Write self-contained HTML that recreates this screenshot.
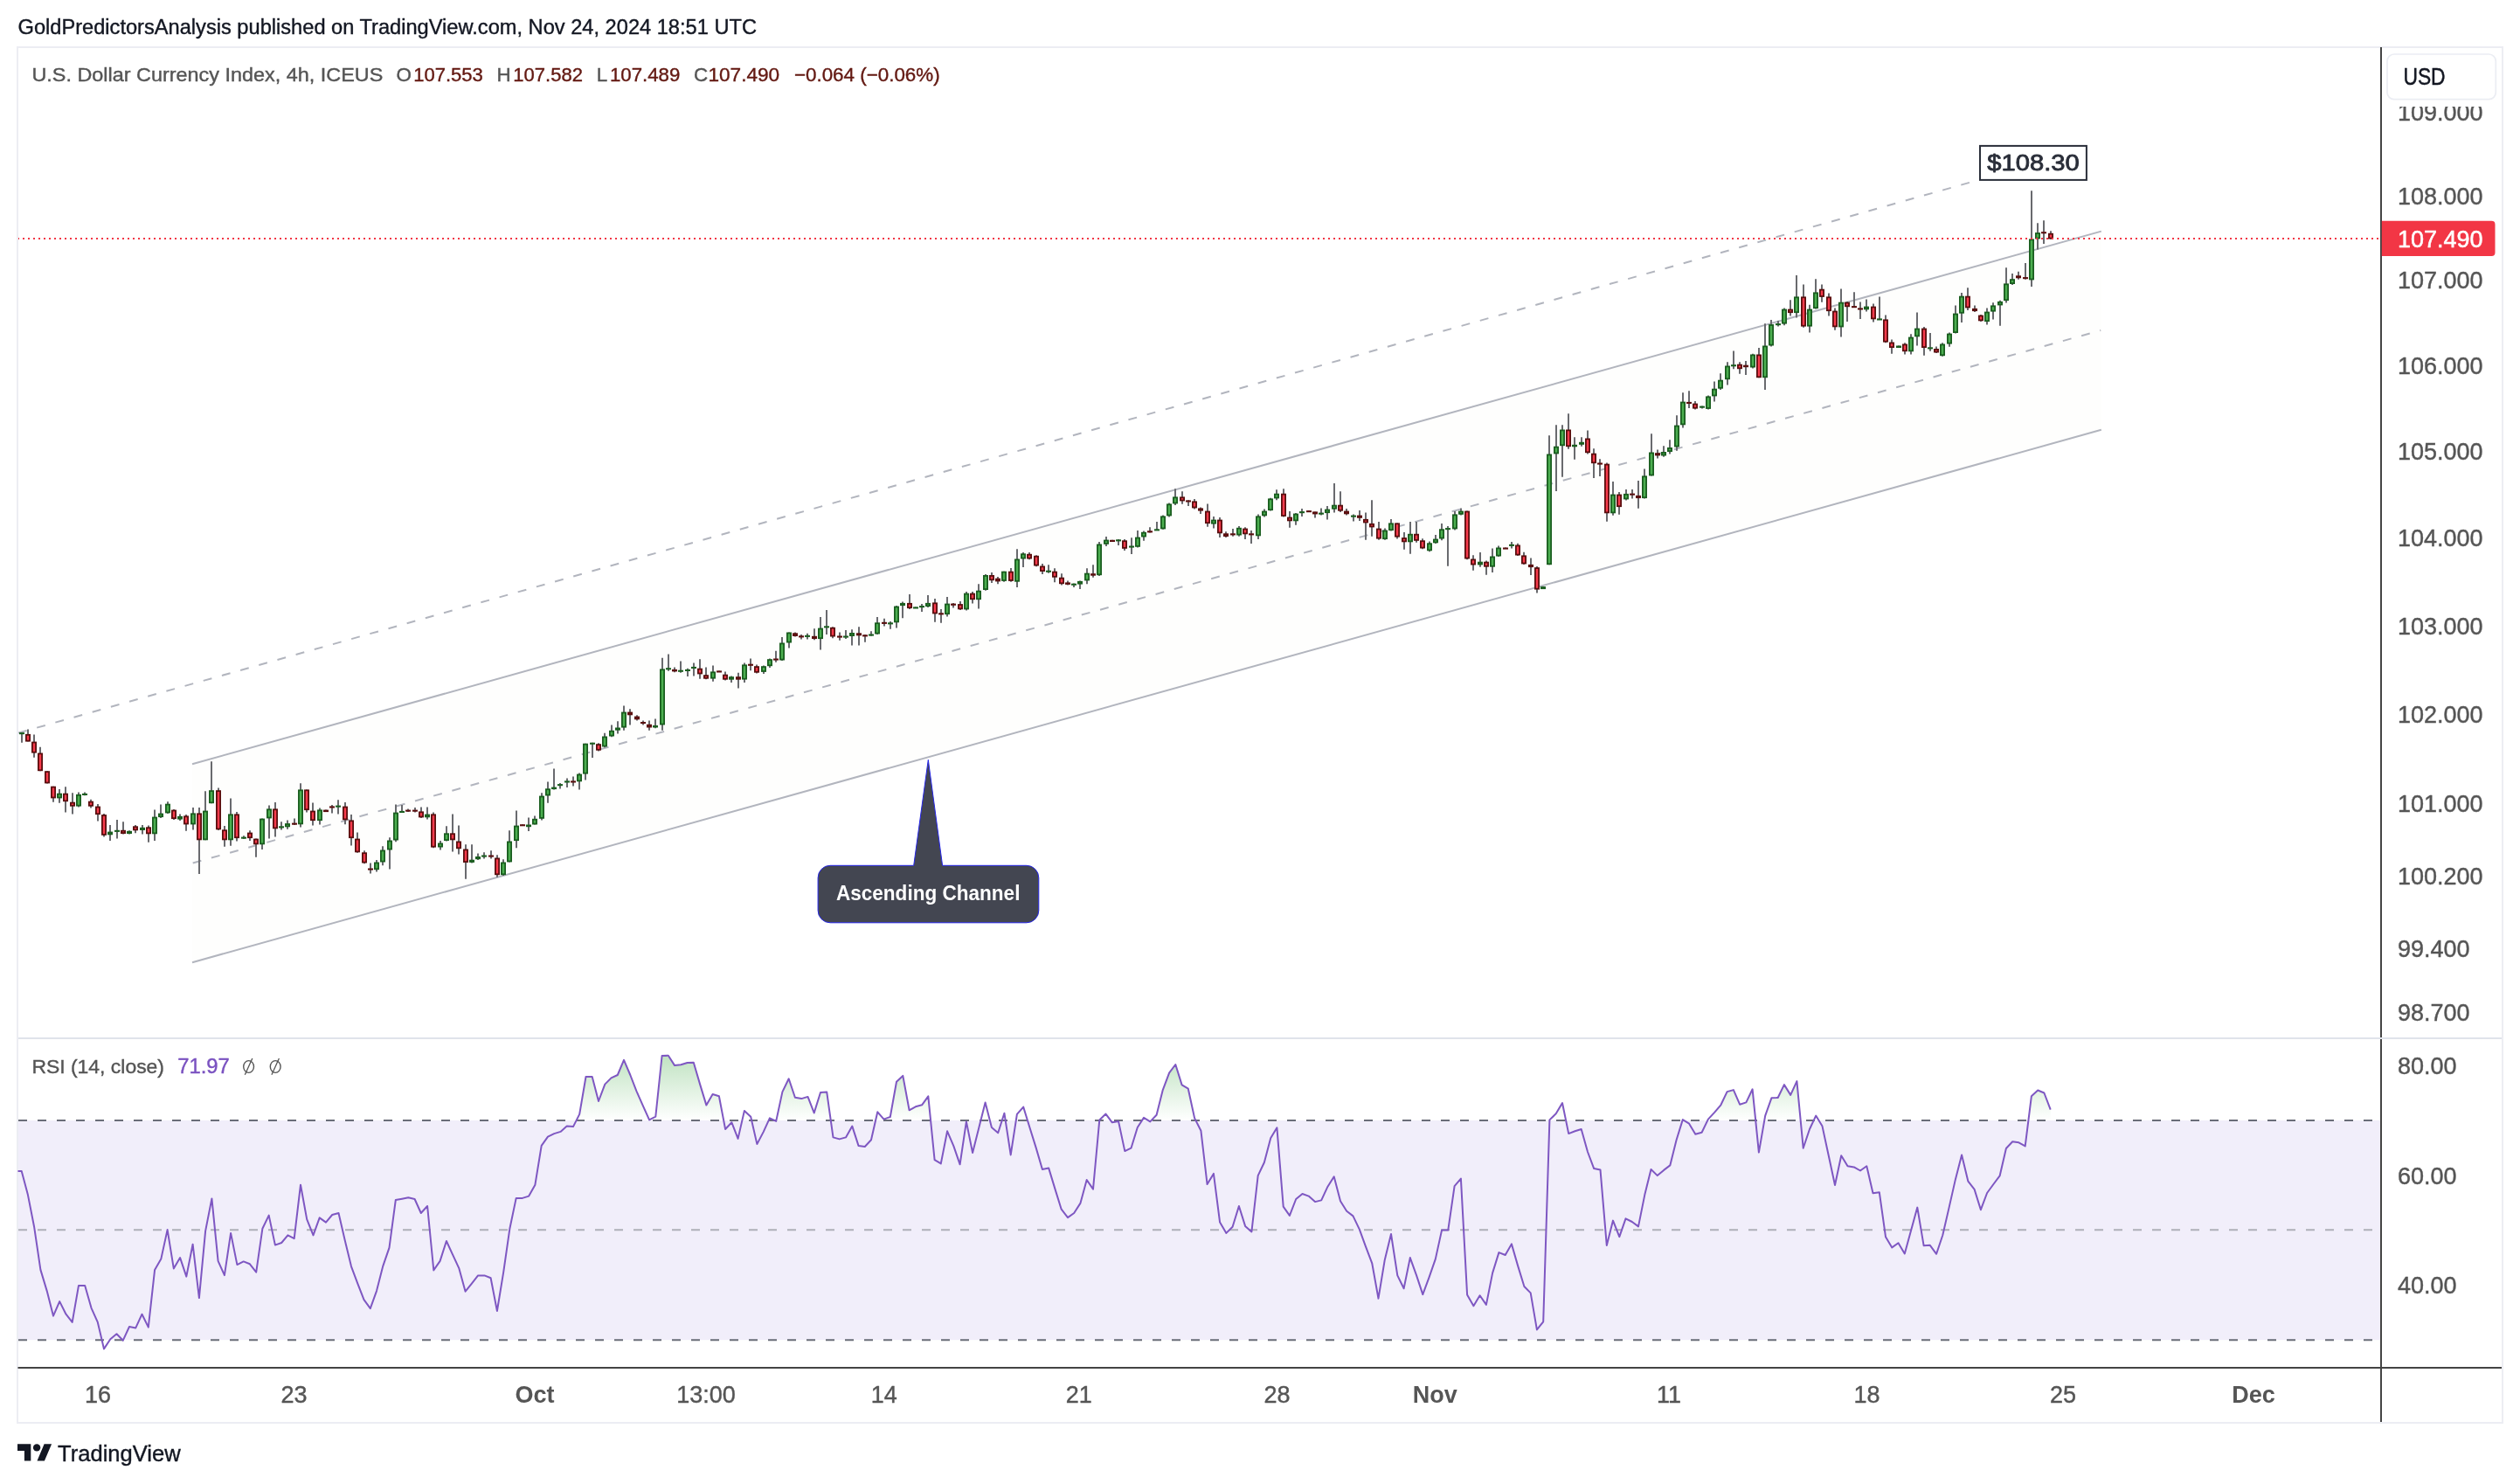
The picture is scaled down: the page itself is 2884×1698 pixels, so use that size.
<!DOCTYPE html><html><head><meta charset="utf-8"><title>DXY</title><style>html,body{margin:0;padding:0;background:#fff}body{width:2884px;height:1698px;overflow:hidden}</style></head><body><svg width="2884" height="1698" viewBox="0 0 2884 1698" style="display:block;will-change:transform">
<defs>
<linearGradient id="ob" x1="0" y1="1156" x2="0" y2="1282" gradientUnits="userSpaceOnUse"><stop offset="0" stop-color="#4caf50" stop-opacity="0.6"/><stop offset="1" stop-color="#4caf50" stop-opacity="0"/></linearGradient>
<clipPath id="obc"><rect x="20" y="1188" width="2704" height="94"/></clipPath>
<clipPath id="main"><rect x="21" y="56" width="2703" height="1131"/></clipPath>
</defs>
<rect width="2884" height="1698" fill="#ffffff"/>
<g opacity="0.999">
<text x="20.5" y="38.6" font-family="Liberation Sans, sans-serif" font-size="24.4" fill="#131722" textLength="845.5" lengthAdjust="spacingAndGlyphs" stroke="#131722" stroke-width="0.4">GoldPredictorsAnalysis published on TradingView.com, Nov 24, 2024 18:51 UTC</text>
<rect x="20" y="54" width="2844" height="1574" fill="#ffffff" stroke="#ecedf3" stroke-width="2"/>
<g clip-path="url(#main)">
<polygon points="220,874.3 2404.8,264.6 2404.8,491.8 220,1101.2" fill="#fefefd"/>
<line x1="220" y1="874.3" x2="2404.8" y2="264.6" stroke="#b2b5be" stroke-width="2"/>
<line x1="220" y1="1101.2" x2="2404.8" y2="491.8" stroke="#b2b5be" stroke-width="2"/>
<line x1="220.7" y1="987.5" x2="2404.2" y2="378" stroke="#b2b5be" stroke-width="2" stroke-dasharray="10 12"/>
<line x1="21" y1="838.6" x2="2266" y2="205.5" stroke="#b2b5be" stroke-width="2" stroke-dasharray="10 12"/>
<path d="M25 837.9V849.8M32 834.4V848.6M39 840.6V866.8M46 854.8V882.2M54 882.2V896.5M61 899.7V917.7M68 902.9V918.7M75 900.2V929.6M83 907.2V931.4M90 906.4V923.4M97 906.4V910.2M104 914.7V924.6M112 920.1V939.6M119 930.9V957.6M126 944.1V962.0M134 937.9V959.6M141 940.3V954.6M148 950.3V954.6M155 944.1V953.3M163 944.1V954.6M170 944.6V963.8M177 926.4V962.0M184 920.4V935.9M192 917.2V930.9M199 925.9V937.9M206 931.4V938.9M213 932.1V950.8M221 924.1V949.6M228 924.1V1000.0M235 905.2V961.3M242 871.3V919.2M250 901.4V950.1M257 945.1V968.8M264 913.4V967.8M271 929.1V962.5M279 956.3V960.0M286 950.3V962.0M293 959.6V980.7M300 936.6V972.0M308 921.4V959.6M315 917.9V957.6M322 940.3V949.6M329 938.4V948.8M337 936.4V944.1M344 896.2V946.6M351 903.4V929.6M358 918.4V944.6M366 924.6V943.6M373 926.6V929.1M380 920.9V930.4M387 915.2V931.4M395 917.9V943.3M402 932.1V967.5M409 952.6V975.8M417 973.3V988.2M424 987.5V999.5M431 984.0V997.5M438 968.3V990.2M446 958.3V994.5M453 920.4V963.3M460 920.9V929.6M467 925.4V929.1M475 924.1V929.6M482 923.4V935.9M489 923.4V937.6M496 929.6V970.3M504 962.0V972.5M511 945.3V962.5M518 931.4V974.5M525 944.6V977.5M533 966.3V1005.7M540 966.3V987.5M547 976.5V984.0M554 975.3V982.5M562 973.3V982.5M569 978.3V1003.7M576 983.2V1001.9M583 950.3V986.5M591 927.6V970.3M598 943.2V944.2M605 935.5V951.0M612 933.5V943.5M620 907.3V938.5M627 894.4V918.8M634 879.4V903.6M641 896.1V902.6M649 890.6V901.1M656 888.6V899.4M663 884.4V903.6M670 850.7V892.6M678 849.7V866.9M685 850.2V859.5M692 838.8V855.2M700 829.5V843.2M707 825.3V839.5M714 807.6V835.8M721 811.3V829.5M729 818.3V824.5M736 824.5V829.5M743 824.5V835.8M750 822.5V833.3M758 752.7V835.8M765 748.5V767.7M772 763.4V769.2M779 756.5V769.7M787 764.7V773.9M794 758.5V773.4M801 754.2V776.7M808 763.4V777.2M816 761.4V779.7M823 767.4V768.4M830 768.4V778.4M837 773.4V780.9M845 769.7V787.6M852 758.5V780.9M859 753.5V767.2M866 760.4V770.4M874 761.4V770.9M881 753.5V763.9M888 744.7V757.7M895 729.0V756.0M903 723.5V741.5M910 723.5V728.5M917 726.0V731.5M924 724.8V731.5M932 719.3V732.3M939 706.1V743.5M946 698.1V726.0M953 717.3V730.3M961 723.5V732.8M968 721.0V731.0M975 720.3V738.5M983 717.3V738.5M990 726.0V734.8M997 722.3V727.8M1004 706.1V726.0M1012 707.8V716.6M1019 711.1V719.8M1026 692.9V718.6M1033 688.6V707.3M1041 679.9V696.9M1048 694.4V695.4M1055 691.1V699.9M1062 681.1V694.9M1070 684.9V711.8M1077 696.9V712.8M1084 682.9V705.6M1091 689.9V695.4M1099 687.9V698.1M1106 676.9V698.6M1113 676.9V690.6M1120 668.2V696.6M1128 657.0V675.7M1135 655.0V666.9M1142 660.0V668.2M1149 653.7V665.7M1157 650.0V665.7M1164 628.3V671.9M1171 632.0V649.0M1178 632.0V640.2M1186 635.3V648.2M1193 645.0V657.0M1200 646.2V655.7M1207 650.2V666.2M1215 656.2V669.4M1222 664.4V669.4M1229 667.4V671.9M1236 664.4V673.9M1244 650.2V668.2M1251 646.2V660.7M1258 620.0V659.0M1266 614.1V625.0M1273 617.8V620.0M1280 617.1V624.0M1287 617.1V630.0M1295 615.3V634.0M1302 607.1V626.5M1309 607.6V618.8M1316 603.3V609.6M1324 597.1V606.6M1331 589.6V605.8M1338 575.4V591.4M1345 559.2V577.9M1353 562.2V576.7M1360 572.2V578.9M1367 570.9V582.6M1374 580.4V587.9M1382 576.4V602.8M1389 590.9V604.6M1396 592.1V615.1M1403 608.3V615.1M1411 605.1V613.8M1418 602.1V613.8M1425 603.3V617.1M1432 607.1V622.0M1440 588.4V617.1M1447 582.6V591.4M1454 569.7V584.6M1461 560.2V572.2M1469 559.2V591.6M1476 585.1V603.8M1483 587.1V600.8M1490 582.1V590.9M1498 584.1V585.1M1505 585.4V592.6M1512 581.4V589.6M1519 578.9V594.6M1527 553.0V586.6M1534 562.2V585.9M1541 582.1V589.6M1549 588.4V596.6M1556 584.1V595.9M1563 586.4V617.8M1570 572.2V613.8M1578 597.1V617.8M1585 604.6V617.8M1592 594.1V607.6M1599 598.4V616.6M1607 609.1V628.8M1614 597.1V633.8M1621 597.1V620.8M1628 616.3V628.3M1636 619.6V631.3M1643 612.1V622.0M1650 599.1V618.3M1657 602.1V647.7M1665 585.1V606.6M1672 581.4V589.6M1679 584.6V640.2M1686 635.3V652.7M1694 632.0V648.7M1701 641.5V657.7M1708 627.5V655.0M1715 624.5V637.0M1723 626.5V627.5M1730 620.0V627.5M1737 621.7V635.9M1744 631.7V645.9M1752 638.4V657.9M1759 647.9V678.6M1766 671.1V674.1M1773 498.3V646.2M1781 486.3V561.9M1788 486.3V545.7M1795 473.3V513.7M1802 500.3V525.7M1810 500.3V510.7M1817 492.5V519.5M1824 513.2V546.9M1831 525.2V544.9M1839 529.5V596.8M1846 551.1V589.8M1853 563.1V588.8M1861 560.1V572.6M1868 560.1V570.6M1875 550.1V581.8M1882 536.4V570.6M1890 496.3V544.4M1897 514.5V524.5M1904 510.2V522.7M1911 503.3V519.5M1919 475.3V515.7M1926 449.2V489.6M1933 447.2V467.1M1940 459.1V468.4M1948 464.6V467.6M1955 452.6V468.4M1962 436.4V459.6M1969 427.2V445.9M1977 414.2V440.4M1984 401.5V422.2M1991 414.2V427.7M1998 413.0V429.0M2006 404.8V421.5M2013 398.0V432.2M2020 370.3V445.9M2027 366.1V396.5M2035 366.9V373.6M2042 352.4V372.3M2049 343.2V361.6M2056 315.0V363.6M2064 325.5V374.8M2071 348.7V380.6M2078 319.2V353.6M2085 325.5V345.7M2093 335.4V361.6M2100 352.4V377.8M2107 330.4V385.6M2114 344.9V367.9M2122 334.2V351.1M2129 345.4V364.9M2136 342.4V356.6M2144 347.4V368.6M2151 339.4V365.4M2158 360.4V392.3M2165 388.6V404.8M2173 395.5V398.0M2180 392.3V405.5M2187 382.3V405.5M2194 357.4V395.5M2202 374.1V406.8M2209 381.1V401.8M2216 396.5V404.0M2223 392.3V407.8M2231 380.6V396.8M2238 349.4V381.6M2245 334.9V369.1M2252 329.2V354.9M2260 349.4V356.9M2267 359.9V367.9M2274 352.4V371.6M2281 346.2V365.4M2289 343.7V372.8M2296 306.2V346.5M2303 312.9V325.9M2310 310.7V319.8M2318 301.0V319.8M2325 218.2V328.0M2332 255.2V285.6M2339 252.2V278.9M2347 264.3V273.7" stroke="#696a6e" stroke-width="2" fill="none"/>
<g fill="#4caf50" stroke="#1b5e20" stroke-width="1.8"><rect x="22.9" y="839.0" width="4.2" height="0.3"/><rect x="65.9" y="908.6" width="4.2" height="3.9"/><rect x="87.9" y="909.8" width="4.2" height="11.9"/><rect x="94.9" y="908.8" width="4.2" height="0.3"/><rect x="123.9" y="952.5" width="4.2" height="1.9"/><rect x="131.9" y="950.7" width="4.2" height="0.3"/><rect x="145.9" y="951.7" width="4.2" height="1.4"/><rect x="160.9" y="947.7" width="4.2" height="1.4"/><rect x="174.9" y="935.5" width="4.2" height="17.9"/><rect x="181.9" y="931.5" width="4.2" height="2.7"/><rect x="189.9" y="920.6" width="4.2" height="8.9"/><rect x="203.9" y="934.8" width="4.2" height="1.9"/><rect x="218.9" y="931.3" width="4.2" height="11.2"/><rect x="232.9" y="928.5" width="4.2" height="31.9"/><rect x="239.9" y="905.1" width="4.2" height="13.2"/><rect x="261.9" y="932.3" width="4.2" height="28.1"/><rect x="276.9" y="958.5" width="4.2" height="0.3"/><rect x="297.9" y="937.5" width="4.2" height="27.9"/><rect x="305.9" y="926.3" width="4.2" height="9.2"/><rect x="319.9" y="946.2" width="4.2" height="0.3"/><rect x="326.9" y="943.0" width="4.2" height="2.4"/><rect x="341.9" y="904.3" width="4.2" height="38.1"/><rect x="363.9" y="927.3" width="4.2" height="10.9"/><rect x="384.9" y="922.5" width="4.2" height="0.3"/><rect x="428.9" y="987.4" width="4.2" height="6.9"/><rect x="435.9" y="973.4" width="4.2" height="12.2"/><rect x="443.9" y="962.4" width="4.2" height="9.2"/><rect x="450.9" y="930.5" width="4.2" height="30.1"/><rect x="457.9" y="928.8" width="4.2" height="0.3"/><rect x="486.9" y="932.5" width="4.2" height="1.9"/><rect x="501.9" y="965.4" width="4.2" height="3.2"/><rect x="508.9" y="954.2" width="4.2" height="6.9"/><rect x="537.9" y="984.6" width="4.2" height="1.4"/><rect x="544.9" y="980.9" width="4.2" height="1.4"/><rect x="551.9" y="979.4" width="4.2" height="0.3"/><rect x="573.9" y="987.4" width="4.2" height="12.9"/><rect x="580.9" y="963.4" width="4.2" height="22.1"/><rect x="588.9" y="945.5" width="4.2" height="15.7"/><rect x="602.9" y="944.4" width="4.2" height="0.9"/><rect x="609.9" y="937.7" width="4.2" height="4.9"/><rect x="617.9" y="911.5" width="4.2" height="24.4"/><rect x="624.9" y="903.2" width="4.2" height="6.4"/><rect x="631.9" y="901.5" width="4.2" height="0.7"/><rect x="638.9" y="898.0" width="4.2" height="0.3"/><rect x="646.9" y="894.3" width="4.2" height="0.3"/><rect x="660.9" y="886.5" width="4.2" height="6.9"/><rect x="667.9" y="851.6" width="4.2" height="33.1"/><rect x="675.9" y="850.6" width="4.2" height="0.3"/><rect x="689.9" y="843.4" width="4.2" height="10.2"/><rect x="697.9" y="836.7" width="4.2" height="4.9"/><rect x="704.9" y="833.4" width="4.2" height="1.4"/><rect x="711.9" y="815.5" width="4.2" height="16.2"/><rect x="747.9" y="830.9" width="4.2" height="0.7"/><rect x="755.9" y="766.3" width="4.2" height="62.3"/><rect x="762.9" y="765.1" width="4.2" height="0.3"/><rect x="776.9" y="767.6" width="4.2" height="0.3"/><rect x="784.9" y="766.8" width="4.2" height="0.3"/><rect x="791.9" y="763.8" width="4.2" height="0.3"/><rect x="813.9" y="769.3" width="4.2" height="6.4"/><rect x="834.9" y="775.1" width="4.2" height="1.7"/><rect x="849.9" y="761.3" width="4.2" height="15.4"/><rect x="871.9" y="763.1" width="4.2" height="4.9"/><rect x="878.9" y="755.1" width="4.2" height="6.2"/><rect x="892.9" y="736.4" width="4.2" height="18.2"/><rect x="900.9" y="724.4" width="4.2" height="10.2"/><rect x="921.9" y="727.7" width="4.2" height="0.3"/><rect x="936.9" y="719.5" width="4.2" height="10.7"/><rect x="943.9" y="717.2" width="4.2" height="0.3"/><rect x="965.9" y="728.4" width="4.2" height="0.3"/><rect x="972.9" y="724.9" width="4.2" height="2.2"/><rect x="994.9" y="726.4" width="4.2" height="0.3"/><rect x="1001.9" y="713.2" width="4.2" height="11.4"/><rect x="1016.9" y="713.2" width="4.2" height="0.3"/><rect x="1023.9" y="694.5" width="4.2" height="16.9"/><rect x="1030.9" y="690.8" width="4.2" height="1.4"/><rect x="1045.9" y="695.3" width="4.2" height="0.3"/><rect x="1052.9" y="694.0" width="4.2" height="0.3"/><rect x="1059.9" y="690.8" width="4.2" height="2.4"/><rect x="1081.9" y="691.5" width="4.2" height="10.7"/><rect x="1103.9" y="679.6" width="4.2" height="16.9"/><rect x="1117.9" y="676.6" width="4.2" height="8.7"/><rect x="1125.9" y="658.9" width="4.2" height="15.2"/><rect x="1146.9" y="654.6" width="4.2" height="9.4"/><rect x="1161.9" y="640.4" width="4.2" height="24.4"/><rect x="1168.9" y="634.2" width="4.2" height="4.4"/><rect x="1197.9" y="653.6" width="4.2" height="0.3"/><rect x="1226.9" y="668.6" width="4.2" height="0.3"/><rect x="1233.9" y="665.8" width="4.2" height="1.9"/><rect x="1241.9" y="656.6" width="4.2" height="6.9"/><rect x="1255.9" y="623.4" width="4.2" height="33.9"/><rect x="1263.9" y="618.5" width="4.2" height="3.4"/><rect x="1277.9" y="618.2" width="4.2" height="0.3"/><rect x="1292.9" y="625.4" width="4.2" height="0.3"/><rect x="1299.9" y="615.5" width="4.2" height="9.4"/><rect x="1306.9" y="609.7" width="4.2" height="3.9"/><rect x="1321.9" y="606.2" width="4.2" height="0.3"/><rect x="1328.9" y="591.3" width="4.2" height="13.2"/><rect x="1335.9" y="577.3" width="4.2" height="12.2"/><rect x="1342.9" y="569.3" width="4.2" height="6.2"/><rect x="1386.9" y="595.5" width="4.2" height="3.2"/><rect x="1415.9" y="604.7" width="4.2" height="6.9"/><rect x="1437.9" y="591.3" width="4.2" height="21.1"/><rect x="1444.9" y="585.5" width="4.2" height="3.9"/><rect x="1451.9" y="571.3" width="4.2" height="11.9"/><rect x="1458.9" y="565.6" width="4.2" height="3.9"/><rect x="1480.9" y="588.5" width="4.2" height="6.9"/><rect x="1487.9" y="586.0" width="4.2" height="0.3"/><rect x="1509.9" y="587.5" width="4.2" height="0.3"/><rect x="1516.9" y="583.5" width="4.2" height="2.7"/><rect x="1524.9" y="578.6" width="4.2" height="3.2"/><rect x="1546.9" y="590.5" width="4.2" height="0.3"/><rect x="1582.9" y="607.5" width="4.2" height="8.7"/><rect x="1589.9" y="599.3" width="4.2" height="6.9"/><rect x="1611.9" y="611.7" width="4.2" height="7.7"/><rect x="1633.9" y="622.2" width="4.2" height="7.2"/><rect x="1640.9" y="617.5" width="4.2" height="2.9"/><rect x="1647.9" y="606.2" width="4.2" height="9.4"/><rect x="1654.9" y="605.0" width="4.2" height="0.3"/><rect x="1662.9" y="589.3" width="4.2" height="15.2"/><rect x="1669.9" y="585.5" width="4.2" height="2.4"/><rect x="1691.9" y="643.6" width="4.2" height="1.9"/><rect x="1705.9" y="637.4" width="4.2" height="10.4"/><rect x="1712.9" y="627.4" width="4.2" height="8.2"/><rect x="1727.9" y="623.7" width="4.2" height="0.3"/><rect x="1763.9" y="672.0" width="4.2" height="1.2"/><rect x="1770.9" y="520.4" width="4.2" height="124.9"/><rect x="1778.9" y="511.6" width="4.2" height="6.9"/><rect x="1785.9" y="492.4" width="4.2" height="16.9"/><rect x="1799.9" y="509.7" width="4.2" height="0.7"/><rect x="1807.9" y="506.7" width="4.2" height="1.2"/><rect x="1843.9" y="566.5" width="4.2" height="19.9"/><rect x="1858.9" y="565.8" width="4.2" height="4.7"/><rect x="1879.9" y="545.3" width="4.2" height="23.9"/><rect x="1887.9" y="518.4" width="4.2" height="25.1"/><rect x="1901.9" y="517.9" width="4.2" height="2.7"/><rect x="1908.9" y="512.9" width="4.2" height="3.2"/><rect x="1916.9" y="487.5" width="4.2" height="23.1"/><rect x="1923.9" y="460.5" width="4.2" height="24.9"/><rect x="1945.9" y="465.5" width="4.2" height="0.3"/><rect x="1952.9" y="454.3" width="4.2" height="12.7"/><rect x="1959.9" y="445.6" width="4.2" height="6.9"/><rect x="1966.9" y="435.6" width="4.2" height="8.2"/><rect x="1974.9" y="419.4" width="4.2" height="13.9"/><rect x="1981.9" y="418.1" width="4.2" height="0.3"/><rect x="2003.9" y="406.4" width="4.2" height="13.2"/><rect x="2017.9" y="396.4" width="4.2" height="34.9"/><rect x="2024.9" y="372.0" width="4.2" height="22.6"/><rect x="2032.9" y="371.0" width="4.2" height="0.3"/><rect x="2039.9" y="354.5" width="4.2" height="15.2"/><rect x="2053.9" y="340.3" width="4.2" height="16.9"/><rect x="2068.9" y="354.5" width="4.2" height="18.2"/><rect x="2075.9" y="335.3" width="4.2" height="16.9"/><rect x="2104.9" y="346.6" width="4.2" height="26.9"/><rect x="2133.9" y="351.5" width="4.2" height="1.9"/><rect x="2148.9" y="365.3" width="4.2" height="0.3"/><rect x="2170.9" y="396.4" width="4.2" height="0.7"/><rect x="2184.9" y="386.5" width="4.2" height="14.9"/><rect x="2191.9" y="376.5" width="4.2" height="7.9"/><rect x="2206.9" y="398.2" width="4.2" height="0.3"/><rect x="2220.9" y="394.4" width="4.2" height="11.9"/><rect x="2228.9" y="382.5" width="4.2" height="10.2"/><rect x="2235.9" y="359.5" width="4.2" height="20.6"/><rect x="2242.9" y="339.6" width="4.2" height="18.2"/><rect x="2271.9" y="357.5" width="4.2" height="9.7"/><rect x="2278.9" y="350.3" width="4.2" height="5.4"/><rect x="2286.9" y="345.8" width="4.2" height="2.7"/><rect x="2293.9" y="325.3" width="4.2" height="17.9"/><rect x="2300.9" y="320.1" width="4.2" height="4.0"/><rect x="2322.9" y="274.3" width="4.2" height="45.2"/><rect x="2329.9" y="267.0" width="4.2" height="5.5"/></g>
<g fill="#f83b4c" stroke="#5a0f0f" stroke-width="1.8"><rect x="29.9" y="840.8" width="4.2" height="6.9"/><rect x="36.9" y="849.5" width="4.2" height="11.2"/><rect x="43.9" y="862.4" width="4.2" height="18.9"/><rect x="51.9" y="883.1" width="4.2" height="12.4"/><rect x="58.9" y="900.6" width="4.2" height="11.9"/><rect x="72.9" y="908.6" width="4.2" height="7.7"/><rect x="80.9" y="918.6" width="4.2" height="3.2"/><rect x="101.9" y="917.6" width="4.2" height="4.2"/><rect x="109.9" y="923.5" width="4.2" height="7.7"/><rect x="116.9" y="933.0" width="4.2" height="21.9"/><rect x="138.9" y="950.7" width="4.2" height="2.4"/><rect x="152.9" y="946.2" width="4.2" height="3.2"/><rect x="167.9" y="947.2" width="4.2" height="6.2"/><rect x="196.9" y="927.5" width="4.2" height="8.7"/><rect x="210.9" y="934.3" width="4.2" height="8.2"/><rect x="225.9" y="931.3" width="4.2" height="29.1"/><rect x="247.9" y="905.1" width="4.2" height="43.3"/><rect x="254.9" y="950.2" width="4.2" height="10.2"/><rect x="268.9" y="932.3" width="4.2" height="25.9"/><rect x="283.9" y="953.5" width="4.2" height="4.7"/><rect x="290.9" y="960.5" width="4.2" height="4.9"/><rect x="312.9" y="926.3" width="4.2" height="21.1"/><rect x="334.9" y="942.5" width="4.2" height="0.3"/><rect x="348.9" y="904.3" width="4.2" height="21.9"/><rect x="355.9" y="928.5" width="4.2" height="9.7"/><rect x="370.9" y="927.5" width="4.2" height="0.7"/><rect x="377.9" y="923.3" width="4.2" height="0.3"/><rect x="392.9" y="923.5" width="4.2" height="13.9"/><rect x="399.9" y="939.3" width="4.2" height="18.9"/><rect x="406.9" y="960.5" width="4.2" height="13.9"/><rect x="414.9" y="976.2" width="4.2" height="10.4"/><rect x="421.9" y="994.4" width="4.2" height="0.3"/><rect x="464.9" y="927.5" width="4.2" height="0.3"/><rect x="472.9" y="927.5" width="4.2" height="0.3"/><rect x="479.9" y="929.3" width="4.2" height="5.2"/><rect x="493.9" y="932.3" width="4.2" height="36.4"/><rect x="515.9" y="954.2" width="4.2" height="6.2"/><rect x="522.9" y="963.4" width="4.2" height="6.9"/><rect x="530.9" y="972.4" width="4.2" height="13.7"/><rect x="559.9" y="979.4" width="4.2" height="0.3"/><rect x="566.9" y="982.4" width="4.2" height="17.9"/><rect x="595.9" y="944.1" width="4.2" height="0.3"/><rect x="653.9" y="894.3" width="4.2" height="0.3"/><rect x="682.9" y="852.1" width="4.2" height="5.7"/><rect x="718.9" y="815.5" width="4.2" height="1.9"/><rect x="726.9" y="820.5" width="4.2" height="1.9"/><rect x="733.9" y="826.9" width="4.2" height="0.3"/><rect x="740.9" y="829.7" width="4.2" height="1.9"/><rect x="769.9" y="766.8" width="4.2" height="0.7"/><rect x="798.9" y="765.6" width="4.2" height="4.9"/><rect x="805.9" y="773.1" width="4.2" height="2.7"/><rect x="820.9" y="768.3" width="4.2" height="0.3"/><rect x="827.9" y="772.6" width="4.2" height="4.2"/><rect x="842.9" y="775.1" width="4.2" height="1.7"/><rect x="856.9" y="760.6" width="4.2" height="0.3"/><rect x="863.9" y="763.1" width="4.2" height="5.7"/><rect x="885.9" y="754.4" width="4.2" height="0.3"/><rect x="907.9" y="725.2" width="4.2" height="1.9"/><rect x="914.9" y="728.2" width="4.2" height="0.3"/><rect x="929.9" y="728.7" width="4.2" height="1.4"/><rect x="950.9" y="718.7" width="4.2" height="8.9"/><rect x="958.9" y="728.4" width="4.2" height="0.3"/><rect x="980.9" y="725.2" width="4.2" height="1.2"/><rect x="987.9" y="727.2" width="4.2" height="0.3"/><rect x="1009.9" y="712.7" width="4.2" height="0.3"/><rect x="1038.9" y="690.8" width="4.2" height="4.4"/><rect x="1067.9" y="690.3" width="4.2" height="11.2"/><rect x="1074.9" y="702.2" width="4.2" height="0.3"/><rect x="1088.9" y="691.5" width="4.2" height="0.4"/><rect x="1096.9" y="692.0" width="4.2" height="4.4"/><rect x="1110.9" y="679.6" width="4.2" height="5.7"/><rect x="1132.9" y="658.9" width="4.2" height="4.4"/><rect x="1139.9" y="662.6" width="4.2" height="1.9"/><rect x="1154.9" y="654.6" width="4.2" height="9.4"/><rect x="1175.9" y="634.7" width="4.2" height="3.9"/><rect x="1183.9" y="636.7" width="4.2" height="9.9"/><rect x="1190.9" y="648.4" width="4.2" height="4.7"/><rect x="1204.9" y="654.6" width="4.2" height="5.2"/><rect x="1212.9" y="661.6" width="4.2" height="5.7"/><rect x="1219.9" y="667.3" width="4.2" height="0.7"/><rect x="1248.9" y="657.1" width="4.2" height="0.7"/><rect x="1270.9" y="618.7" width="4.2" height="0.4"/><rect x="1284.9" y="619.2" width="4.2" height="7.7"/><rect x="1313.9" y="608.2" width="4.2" height="0.3"/><rect x="1350.9" y="569.3" width="4.2" height="3.2"/><rect x="1357.9" y="573.3" width="4.2" height="0.3"/><rect x="1364.9" y="574.3" width="4.2" height="6.2"/><rect x="1371.9" y="582.3" width="4.2" height="1.4"/><rect x="1379.9" y="585.5" width="4.2" height="12.7"/><rect x="1393.9" y="595.5" width="4.2" height="13.9"/><rect x="1400.9" y="611.2" width="4.2" height="1.9"/><rect x="1408.9" y="611.2" width="4.2" height="0.3"/><rect x="1422.9" y="605.5" width="4.2" height="4.9"/><rect x="1429.9" y="611.2" width="4.2" height="0.3"/><rect x="1466.9" y="565.6" width="4.2" height="24.4"/><rect x="1473.9" y="592.5" width="4.2" height="2.9"/><rect x="1495.9" y="585.0" width="4.2" height="0.3"/><rect x="1502.9" y="586.3" width="4.2" height="1.2"/><rect x="1531.9" y="578.6" width="4.2" height="5.2"/><rect x="1538.9" y="585.5" width="4.2" height="1.9"/><rect x="1553.9" y="590.5" width="4.2" height="1.4"/><rect x="1560.9" y="594.8" width="4.2" height="2.7"/><rect x="1567.9" y="599.8" width="4.2" height="2.7"/><rect x="1575.9" y="605.5" width="4.2" height="10.2"/><rect x="1596.9" y="599.3" width="4.2" height="14.4"/><rect x="1604.9" y="616.0" width="4.2" height="3.4"/><rect x="1618.9" y="611.7" width="4.2" height="6.2"/><rect x="1625.9" y="619.2" width="4.2" height="7.4"/><rect x="1676.9" y="585.5" width="4.2" height="53.1"/><rect x="1683.9" y="640.4" width="4.2" height="5.2"/><rect x="1698.9" y="643.6" width="4.2" height="4.2"/><rect x="1720.9" y="627.4" width="4.2" height="0.3"/><rect x="1734.9" y="624.4" width="4.2" height="10.2"/><rect x="1741.9" y="636.3" width="4.2" height="8.2"/><rect x="1749.9" y="646.8" width="4.2" height="1.4"/><rect x="1756.9" y="650.1" width="4.2" height="23.6"/><rect x="1792.9" y="492.4" width="4.2" height="17.9"/><rect x="1814.9" y="502.4" width="4.2" height="14.9"/><rect x="1821.9" y="519.6" width="4.2" height="9.7"/><rect x="1828.9" y="530.4" width="4.2" height="0.3"/><rect x="1836.9" y="531.6" width="4.2" height="54.8"/><rect x="1850.9" y="566.5" width="4.2" height="12.7"/><rect x="1865.9" y="565.5" width="4.2" height="0.3"/><rect x="1872.9" y="567.8" width="4.2" height="1.4"/><rect x="1894.9" y="519.1" width="4.2" height="1.4"/><rect x="1930.9" y="460.8" width="4.2" height="0.3"/><rect x="1937.9" y="462.5" width="4.2" height="4.2"/><rect x="1988.9" y="417.6" width="4.2" height="3.7"/><rect x="1995.9" y="418.6" width="4.2" height="0.7"/><rect x="2010.9" y="406.4" width="4.2" height="24.9"/><rect x="2046.9" y="354.5" width="4.2" height="2.7"/><rect x="2061.9" y="340.3" width="4.2" height="32.4"/><rect x="2082.9" y="331.6" width="4.2" height="7.4"/><rect x="2090.9" y="340.3" width="4.2" height="14.9"/><rect x="2097.9" y="356.5" width="4.2" height="16.9"/><rect x="2111.9" y="346.6" width="4.2" height="3.7"/><rect x="2119.9" y="351.0" width="4.2" height="0.3"/><rect x="2126.9" y="353.3" width="4.2" height="0.3"/><rect x="2141.9" y="351.5" width="4.2" height="12.9"/><rect x="2155.9" y="366.3" width="4.2" height="24.4"/><rect x="2162.9" y="392.4" width="4.2" height="4.7"/><rect x="2177.9" y="394.4" width="4.2" height="6.9"/><rect x="2199.9" y="376.5" width="4.2" height="20.6"/><rect x="2213.9" y="399.9" width="4.2" height="2.7"/><rect x="2249.9" y="339.6" width="4.2" height="11.9"/><rect x="2257.9" y="353.8" width="4.2" height="1.4"/><rect x="2264.9" y="361.5" width="4.2" height="4.9"/><rect x="2307.9" y="316.2" width="4.2" height="1.2"/><rect x="2315.9" y="318.0" width="4.2" height="0.3"/><rect x="2336.9" y="266.1" width="4.2" height="0.3"/><rect x="2344.9" y="267.7" width="4.2" height="4.9"/></g>
<line x1="20" y1="273" x2="2724" y2="273" stroke="#f23645" stroke-width="2" stroke-dasharray="2 4"/>
<path d="M950.1 990.3H1045.7L1062.3 869.4L1078.6 990.3H1174.8A14 14 0 0 1 1188.8 1004.3V1041.8A14 14 0 0 1 1174.8 1055.8H950.1A14 14 0 0 1 936.1 1041.8V1004.3A14 14 0 0 1 950.1 990.3Z" fill="#434651" stroke="#2424e8" stroke-width="1"/>
<text x="1062.2" y="1030.1" font-family="Liberation Sans, sans-serif" font-size="23" font-weight="bold" fill="#ffffff" text-anchor="middle" textLength="210.5" lengthAdjust="spacingAndGlyphs" stroke="#ffffff" stroke-width="0">Ascending Channel</text>
<rect x="2266" y="166.9" width="121.9" height="39" fill="#ffffff" stroke="#2a2e39" stroke-width="2"/>
<text x="2327" y="195.2" font-family="Liberation Sans, sans-serif" font-size="26.7" fill="#2a2e39" stroke="#2a2e39" stroke-width="0.85" stroke-linejoin="round" text-anchor="middle" textLength="105.4" lengthAdjust="spacingAndGlyphs">$108.30</text>
</g>
<text x="36.4" y="92.9" font-family="Liberation Sans, sans-serif" font-size="22.4" fill="#555555" textLength="401.9" lengthAdjust="spacingAndGlyphs" stroke="#555555" stroke-width="0.4">U.S. Dollar Currency Index, 4h, ICEUS</text>
<text x="453.4" y="92.9" font-family="Liberation Sans, sans-serif" font-size="22.4" fill="#555555" stroke="#555555" stroke-width="0.4">O</text>
<text x="473.2" y="92.9" font-family="Liberation Sans, sans-serif" font-size="22.4" fill="#631912" textLength="79.6" lengthAdjust="spacingAndGlyphs" stroke="#631912" stroke-width="0.4">107.553</text>
<text x="568.6" y="92.9" font-family="Liberation Sans, sans-serif" font-size="22.4" fill="#555555" stroke="#555555" stroke-width="0.4">H</text>
<text x="587.3" y="92.9" font-family="Liberation Sans, sans-serif" font-size="22.4" fill="#631912" textLength="79.6" lengthAdjust="spacingAndGlyphs" stroke="#631912" stroke-width="0.4">107.582</text>
<text x="682.8" y="92.9" font-family="Liberation Sans, sans-serif" font-size="22.4" fill="#555555" stroke="#555555" stroke-width="0.4">L</text>
<text x="697.9" y="92.9" font-family="Liberation Sans, sans-serif" font-size="22.4" fill="#631912" textLength="80.4" lengthAdjust="spacingAndGlyphs" stroke="#631912" stroke-width="0.4">107.489</text>
<text x="794" y="92.9" font-family="Liberation Sans, sans-serif" font-size="22.4" fill="#555555" stroke="#555555" stroke-width="0.4">C</text>
<text x="810.4" y="92.9" font-family="Liberation Sans, sans-serif" font-size="22.4" fill="#631912" textLength="81.8" lengthAdjust="spacingAndGlyphs" stroke="#631912" stroke-width="0.4">107.490</text>
<text x="908.9" y="92.9" font-family="Liberation Sans, sans-serif" font-size="22.4" fill="#631912" textLength="166.8" lengthAdjust="spacingAndGlyphs" stroke="#631912" stroke-width="0.4">−0.064 (−0.06%)</text>
<line x1="21" y1="1188" x2="2863" y2="1188" stroke="#e0e3eb" stroke-width="2"/>
<rect x="21" y="1282" width="2703" height="251.2" fill="#f1eefa"/>
<path d="M24.7 1340.0 L31.9 1367.1 L39.2 1404.3 L46.4 1452.9 L53.7 1477.1 L61.0 1505.7 L68.2 1489.1 L75.5 1503.7 L82.7 1512.9 L90.0 1470.9 L97.2 1470.9 L104.5 1496.6 L111.8 1512.9 L119.0 1543.4 L126.3 1532.3 L133.5 1526.3 L140.8 1533.7 L148.0 1518.0 L155.3 1519.4 L162.5 1503.7 L169.8 1518.6 L177.1 1452.9 L184.3 1440.6 L191.6 1407.1 L198.8 1451.4 L206.1 1439.1 L213.3 1460.6 L220.6 1423.7 L227.9 1485.1 L235.1 1408.6 L242.4 1371.4 L249.6 1442.9 L256.9 1459.1 L264.1 1410.9 L271.4 1447.1 L278.7 1443.4 L285.9 1446.3 L293.2 1455.7 L300.4 1405.7 L307.7 1390.6 L314.9 1424.6 L322.2 1422.0 L329.4 1413.4 L336.7 1417.1 L344.0 1355.7 L351.2 1395.1 L358.5 1413.4 L365.7 1393.4 L373.0 1398.6 L380.2 1390.0 L387.5 1388.0 L394.8 1419.4 L402.0 1449.1 L409.3 1468.6 L416.5 1487.1 L423.8 1497.1 L431.0 1477.1 L438.3 1448.6 L445.5 1427.7 L452.8 1373.1 L460.1 1371.7 L467.3 1370.3 L474.6 1372.0 L481.8 1388.0 L489.1 1380.0 L496.3 1453.4 L503.6 1442.9 L510.9 1420.0 L518.1 1435.7 L525.4 1451.4 L532.6 1477.7 L539.9 1468.6 L547.1 1459.4 L554.4 1459.4 L561.6 1462.3 L568.9 1500.0 L576.2 1455.7 L583.4 1405.7 L590.7 1370.9 L597.9 1370.9 L605.2 1368.6 L612.4 1355.7 L619.7 1310.9 L627.0 1300.6 L634.2 1297.1 L641.5 1294.9 L648.7 1288.6 L656.0 1289.1 L663.2 1274.9 L670.5 1232.0 L677.7 1232.0 L685.0 1260.0 L692.3 1240.6 L699.5 1233.4 L706.8 1230.0 L714.0 1212.9 L721.3 1230.0 L728.5 1248.6 L735.8 1265.1 L743.1 1281.4 L750.3 1277.7 L757.6 1208.0 L764.8 1207.7 L772.1 1219.1 L779.3 1218.3 L786.6 1216.0 L793.8 1215.7 L801.1 1240.6 L808.4 1264.6 L815.6 1252.0 L822.9 1254.3 L830.1 1292.0 L837.4 1284.3 L844.6 1302.9 L851.9 1270.9 L859.2 1277.7 L866.4 1309.1 L873.7 1295.1 L880.9 1279.4 L888.2 1282.9 L895.4 1249.4 L902.7 1234.3 L909.9 1255.7 L917.2 1257.1 L924.5 1254.9 L931.7 1273.4 L939.0 1250.0 L946.2 1249.4 L953.5 1301.4 L960.7 1303.4 L968.0 1301.4 L975.3 1288.6 L982.5 1310.9 L989.8 1312.0 L997.0 1304.3 L1004.3 1272.3 L1011.5 1280.6 L1018.8 1278.0 L1026.0 1237.7 L1033.3 1230.9 L1040.6 1270.3 L1047.8 1266.3 L1055.1 1264.3 L1062.3 1254.3 L1069.6 1327.1 L1076.8 1331.4 L1084.1 1294.3 L1091.4 1311.4 L1098.6 1332.3 L1105.9 1283.4 L1113.1 1319.1 L1120.4 1290.0 L1127.6 1261.4 L1134.9 1290.0 L1142.2 1296.3 L1149.4 1273.7 L1156.7 1321.4 L1163.9 1274.9 L1171.2 1266.6 L1178.4 1290.0 L1185.7 1313.4 L1192.9 1338.0 L1200.2 1336.6 L1207.5 1360.6 L1214.7 1383.7 L1222.0 1393.1 L1229.2 1388.0 L1236.5 1376.6 L1243.7 1350.0 L1251.0 1360.6 L1258.3 1281.4 L1265.5 1274.6 L1272.8 1284.3 L1280.0 1282.9 L1287.3 1317.1 L1294.5 1313.7 L1301.8 1290.0 L1309.0 1278.9 L1316.3 1283.4 L1323.6 1275.7 L1330.8 1247.1 L1338.1 1227.7 L1345.3 1218.0 L1352.6 1241.4 L1359.8 1245.7 L1367.1 1279.4 L1374.4 1293.7 L1381.6 1355.1 L1388.9 1342.9 L1396.1 1398.6 L1403.4 1410.9 L1410.6 1403.7 L1417.9 1380.0 L1425.1 1402.9 L1432.4 1409.4 L1439.7 1345.1 L1446.9 1330.0 L1454.2 1302.3 L1461.4 1290.3 L1468.7 1380.6 L1475.9 1390.9 L1483.2 1372.0 L1490.5 1366.0 L1497.7 1368.6 L1505.0 1375.1 L1512.2 1373.4 L1519.5 1357.7 L1526.7 1346.3 L1534.0 1374.3 L1541.2 1385.7 L1548.5 1391.4 L1555.8 1406.6 L1563.0 1426.3 L1570.3 1445.7 L1577.5 1485.7 L1584.8 1441.4 L1592.0 1412.0 L1599.3 1459.4 L1606.6 1474.3 L1613.8 1439.1 L1621.1 1459.4 L1628.3 1481.1 L1635.6 1461.4 L1642.8 1440.6 L1650.1 1407.4 L1657.3 1407.4 L1664.6 1357.1 L1671.9 1348.6 L1679.1 1481.4 L1686.4 1494.3 L1693.6 1482.3 L1700.9 1492.9 L1708.1 1456.6 L1715.4 1433.1 L1722.7 1436.0 L1729.9 1423.4 L1737.2 1448.6 L1744.4 1472.0 L1751.7 1479.4 L1758.9 1521.4 L1766.2 1512.3 L1773.4 1281.4 L1780.7 1274.3 L1788.0 1262.0 L1795.2 1297.1 L1802.5 1294.3 L1809.7 1292.0 L1817.0 1318.0 L1824.2 1337.1 L1831.5 1338.6 L1838.8 1424.9 L1846.0 1396.6 L1853.3 1415.1 L1860.5 1394.3 L1867.8 1398.0 L1875.0 1403.4 L1882.3 1367.1 L1889.5 1338.0 L1896.8 1345.1 L1904.1 1338.9 L1911.3 1333.4 L1918.6 1304.3 L1925.8 1281.1 L1933.1 1285.7 L1940.3 1297.7 L1947.6 1295.7 L1954.9 1280.6 L1962.1 1272.9 L1969.4 1264.3 L1976.6 1249.1 L1983.9 1247.1 L1991.1 1263.7 L1998.4 1261.4 L2005.6 1246.3 L2012.9 1318.6 L2020.2 1276.6 L2027.4 1256.3 L2034.7 1256.0 L2041.9 1241.1 L2049.2 1252.9 L2056.4 1237.1 L2063.7 1313.7 L2071.0 1292.0 L2078.2 1276.6 L2085.5 1288.6 L2092.7 1322.0 L2100.0 1356.0 L2107.2 1322.3 L2114.5 1334.3 L2121.8 1335.4 L2129.0 1339.5 L2136.3 1334.3 L2143.5 1365.3 L2150.8 1364.2 L2158.0 1415.2 L2165.3 1427.4 L2172.5 1422.2 L2179.8 1434.4 L2187.1 1407.8 L2194.3 1381.6 L2201.6 1425.2 L2208.8 1424.8 L2216.1 1434.8 L2223.3 1413.3 L2230.6 1381.6 L2237.9 1349.4 L2245.1 1321.4 L2252.4 1351.7 L2259.6 1360.9 L2266.9 1384.2 L2274.1 1365.0 L2281.4 1355.0 L2288.6 1345.4 L2295.9 1314.0 L2303.2 1306.2 L2310.4 1307.3 L2317.7 1311.4 L2324.9 1254.2 L2332.2 1247.5 L2339.4 1250.5 L2346.7 1269.7 L2346.7 1282 L24.7 1282 Z" fill="url(#ob)" clip-path="url(#obc)"/>
<line x1="21" y1="1282" x2="2724" y2="1282" stroke="#6a6d78" stroke-width="2" stroke-dasharray="10 12"/>
<line x1="21" y1="1407.3" x2="2724" y2="1407.3" stroke="#aeb0b8" stroke-width="2" stroke-dasharray="10 12"/>
<line x1="21" y1="1533.2" x2="2724" y2="1533.2" stroke="#6a6d78" stroke-width="2" stroke-dasharray="10 12"/>
<path d="M20.5 1340.0 L24.7 1340.0 L31.9 1367.1 L39.2 1404.3 L46.4 1452.9 L53.7 1477.1 L61.0 1505.7 L68.2 1489.1 L75.5 1503.7 L82.7 1512.9 L90.0 1470.9 L97.2 1470.9 L104.5 1496.6 L111.8 1512.9 L119.0 1543.4 L126.3 1532.3 L133.5 1526.3 L140.8 1533.7 L148.0 1518.0 L155.3 1519.4 L162.5 1503.7 L169.8 1518.6 L177.1 1452.9 L184.3 1440.6 L191.6 1407.1 L198.8 1451.4 L206.1 1439.1 L213.3 1460.6 L220.6 1423.7 L227.9 1485.1 L235.1 1408.6 L242.4 1371.4 L249.6 1442.9 L256.9 1459.1 L264.1 1410.9 L271.4 1447.1 L278.7 1443.4 L285.9 1446.3 L293.2 1455.7 L300.4 1405.7 L307.7 1390.6 L314.9 1424.6 L322.2 1422.0 L329.4 1413.4 L336.7 1417.1 L344.0 1355.7 L351.2 1395.1 L358.5 1413.4 L365.7 1393.4 L373.0 1398.6 L380.2 1390.0 L387.5 1388.0 L394.8 1419.4 L402.0 1449.1 L409.3 1468.6 L416.5 1487.1 L423.8 1497.1 L431.0 1477.1 L438.3 1448.6 L445.5 1427.7 L452.8 1373.1 L460.1 1371.7 L467.3 1370.3 L474.6 1372.0 L481.8 1388.0 L489.1 1380.0 L496.3 1453.4 L503.6 1442.9 L510.9 1420.0 L518.1 1435.7 L525.4 1451.4 L532.6 1477.7 L539.9 1468.6 L547.1 1459.4 L554.4 1459.4 L561.6 1462.3 L568.9 1500.0 L576.2 1455.7 L583.4 1405.7 L590.7 1370.9 L597.9 1370.9 L605.2 1368.6 L612.4 1355.7 L619.7 1310.9 L627.0 1300.6 L634.2 1297.1 L641.5 1294.9 L648.7 1288.6 L656.0 1289.1 L663.2 1274.9 L670.5 1232.0 L677.7 1232.0 L685.0 1260.0 L692.3 1240.6 L699.5 1233.4 L706.8 1230.0 L714.0 1212.9 L721.3 1230.0 L728.5 1248.6 L735.8 1265.1 L743.1 1281.4 L750.3 1277.7 L757.6 1208.0 L764.8 1207.7 L772.1 1219.1 L779.3 1218.3 L786.6 1216.0 L793.8 1215.7 L801.1 1240.6 L808.4 1264.6 L815.6 1252.0 L822.9 1254.3 L830.1 1292.0 L837.4 1284.3 L844.6 1302.9 L851.9 1270.9 L859.2 1277.7 L866.4 1309.1 L873.7 1295.1 L880.9 1279.4 L888.2 1282.9 L895.4 1249.4 L902.7 1234.3 L909.9 1255.7 L917.2 1257.1 L924.5 1254.9 L931.7 1273.4 L939.0 1250.0 L946.2 1249.4 L953.5 1301.4 L960.7 1303.4 L968.0 1301.4 L975.3 1288.6 L982.5 1310.9 L989.8 1312.0 L997.0 1304.3 L1004.3 1272.3 L1011.5 1280.6 L1018.8 1278.0 L1026.0 1237.7 L1033.3 1230.9 L1040.6 1270.3 L1047.8 1266.3 L1055.1 1264.3 L1062.3 1254.3 L1069.6 1327.1 L1076.8 1331.4 L1084.1 1294.3 L1091.4 1311.4 L1098.6 1332.3 L1105.9 1283.4 L1113.1 1319.1 L1120.4 1290.0 L1127.6 1261.4 L1134.9 1290.0 L1142.2 1296.3 L1149.4 1273.7 L1156.7 1321.4 L1163.9 1274.9 L1171.2 1266.6 L1178.4 1290.0 L1185.7 1313.4 L1192.9 1338.0 L1200.2 1336.6 L1207.5 1360.6 L1214.7 1383.7 L1222.0 1393.1 L1229.2 1388.0 L1236.5 1376.6 L1243.7 1350.0 L1251.0 1360.6 L1258.3 1281.4 L1265.5 1274.6 L1272.8 1284.3 L1280.0 1282.9 L1287.3 1317.1 L1294.5 1313.7 L1301.8 1290.0 L1309.0 1278.9 L1316.3 1283.4 L1323.6 1275.7 L1330.8 1247.1 L1338.1 1227.7 L1345.3 1218.0 L1352.6 1241.4 L1359.8 1245.7 L1367.1 1279.4 L1374.4 1293.7 L1381.6 1355.1 L1388.9 1342.9 L1396.1 1398.6 L1403.4 1410.9 L1410.6 1403.7 L1417.9 1380.0 L1425.1 1402.9 L1432.4 1409.4 L1439.7 1345.1 L1446.9 1330.0 L1454.2 1302.3 L1461.4 1290.3 L1468.7 1380.6 L1475.9 1390.9 L1483.2 1372.0 L1490.5 1366.0 L1497.7 1368.6 L1505.0 1375.1 L1512.2 1373.4 L1519.5 1357.7 L1526.7 1346.3 L1534.0 1374.3 L1541.2 1385.7 L1548.5 1391.4 L1555.8 1406.6 L1563.0 1426.3 L1570.3 1445.7 L1577.5 1485.7 L1584.8 1441.4 L1592.0 1412.0 L1599.3 1459.4 L1606.6 1474.3 L1613.8 1439.1 L1621.1 1459.4 L1628.3 1481.1 L1635.6 1461.4 L1642.8 1440.6 L1650.1 1407.4 L1657.3 1407.4 L1664.6 1357.1 L1671.9 1348.6 L1679.1 1481.4 L1686.4 1494.3 L1693.6 1482.3 L1700.9 1492.9 L1708.1 1456.6 L1715.4 1433.1 L1722.7 1436.0 L1729.9 1423.4 L1737.2 1448.6 L1744.4 1472.0 L1751.7 1479.4 L1758.9 1521.4 L1766.2 1512.3 L1773.4 1281.4 L1780.7 1274.3 L1788.0 1262.0 L1795.2 1297.1 L1802.5 1294.3 L1809.7 1292.0 L1817.0 1318.0 L1824.2 1337.1 L1831.5 1338.6 L1838.8 1424.9 L1846.0 1396.6 L1853.3 1415.1 L1860.5 1394.3 L1867.8 1398.0 L1875.0 1403.4 L1882.3 1367.1 L1889.5 1338.0 L1896.8 1345.1 L1904.1 1338.9 L1911.3 1333.4 L1918.6 1304.3 L1925.8 1281.1 L1933.1 1285.7 L1940.3 1297.7 L1947.6 1295.7 L1954.9 1280.6 L1962.1 1272.9 L1969.4 1264.3 L1976.6 1249.1 L1983.9 1247.1 L1991.1 1263.7 L1998.4 1261.4 L2005.6 1246.3 L2012.9 1318.6 L2020.2 1276.6 L2027.4 1256.3 L2034.7 1256.0 L2041.9 1241.1 L2049.2 1252.9 L2056.4 1237.1 L2063.7 1313.7 L2071.0 1292.0 L2078.2 1276.6 L2085.5 1288.6 L2092.7 1322.0 L2100.0 1356.0 L2107.2 1322.3 L2114.5 1334.3 L2121.8 1335.4 L2129.0 1339.5 L2136.3 1334.3 L2143.5 1365.3 L2150.8 1364.2 L2158.0 1415.2 L2165.3 1427.4 L2172.5 1422.2 L2179.8 1434.4 L2187.1 1407.8 L2194.3 1381.6 L2201.6 1425.2 L2208.8 1424.8 L2216.1 1434.8 L2223.3 1413.3 L2230.6 1381.6 L2237.9 1349.4 L2245.1 1321.4 L2252.4 1351.7 L2259.6 1360.9 L2266.9 1384.2 L2274.1 1365.0 L2281.4 1355.0 L2288.6 1345.4 L2295.9 1314.0 L2303.2 1306.2 L2310.4 1307.3 L2317.7 1311.4 L2324.9 1254.2 L2332.2 1247.5 L2339.4 1250.5 L2346.7 1269.7" fill="none" stroke="#7e57c2" stroke-width="2" stroke-linejoin="round"/>
<text x="36.4" y="1227.9" font-family="Liberation Sans, sans-serif" font-size="22.4" fill="#555555" textLength="151.6" lengthAdjust="spacingAndGlyphs" stroke="#555555" stroke-width="0.4">RSI (14, close)</text>
<text x="203.2" y="1227.9" font-family="Liberation Sans, sans-serif" font-size="23.2" fill="#7a52c0" textLength="59.6" lengthAdjust="spacingAndGlyphs" stroke="#7a52c0" stroke-width="0.4">71.97</text>
<ellipse cx="284.6" cy="1220.5" rx="5.9" ry="6.9" fill="none" stroke="#555555" stroke-width="1.4"/><line x1="280.3" y1="1229.8" x2="288.8" y2="1211.1" stroke="#555555" stroke-width="1.3"/>
<ellipse cx="315.2" cy="1220.5" rx="5.9" ry="6.9" fill="none" stroke="#555555" stroke-width="1.4"/><line x1="310.9" y1="1229.8" x2="319.4" y2="1211.1" stroke="#555555" stroke-width="1.3"/>
<path d="M2725 54V1187M2725 1189V1627" stroke="#444444" stroke-width="2"/>
<line x1="20.5" y1="1565" x2="2863" y2="1565" stroke="#444444" stroke-width="2"/>
<text x="2744" y="138.2" font-family="Liberation Sans, sans-serif" fill="#555555" font-size="27" stroke="#555555" stroke-width="0.4">109.000</text>
<text x="2744" y="233.8" font-family="Liberation Sans, sans-serif" fill="#555555" font-size="27" stroke="#555555" stroke-width="0.4">108.000</text>
<text x="2744" y="330.3" font-family="Liberation Sans, sans-serif" fill="#555555" font-size="27" stroke="#555555" stroke-width="0.4">107.000</text>
<text x="2744" y="427.7" font-family="Liberation Sans, sans-serif" fill="#555555" font-size="27" stroke="#555555" stroke-width="0.4">106.000</text>
<text x="2744" y="526.1" font-family="Liberation Sans, sans-serif" fill="#555555" font-size="27" stroke="#555555" stroke-width="0.4">105.000</text>
<text x="2744" y="625.4" font-family="Liberation Sans, sans-serif" fill="#555555" font-size="27" stroke="#555555" stroke-width="0.4">104.000</text>
<text x="2744" y="725.6" font-family="Liberation Sans, sans-serif" fill="#555555" font-size="27" stroke="#555555" stroke-width="0.4">103.000</text>
<text x="2744" y="826.9" font-family="Liberation Sans, sans-serif" fill="#555555" font-size="27" stroke="#555555" stroke-width="0.4">102.000</text>
<text x="2744" y="929.1" font-family="Liberation Sans, sans-serif" fill="#555555" font-size="27" stroke="#555555" stroke-width="0.4">101.000</text>
<text x="2744" y="1011.6" font-family="Liberation Sans, sans-serif" fill="#555555" font-size="27" stroke="#555555" stroke-width="0.4">100.200</text>
<text x="2744" y="1094.8" font-family="Liberation Sans, sans-serif" fill="#555555" font-size="27" stroke="#555555" stroke-width="0.4">99.400</text>
<text x="2744" y="1168.1" font-family="Liberation Sans, sans-serif" fill="#555555" font-size="27" stroke="#555555" stroke-width="0.4">98.700</text>
<text x="2744" y="1229.1" font-family="Liberation Sans, sans-serif" fill="#555555" font-size="27" stroke="#555555" stroke-width="0.4">80.00</text>
<text x="2744" y="1354.7" font-family="Liberation Sans, sans-serif" fill="#555555" font-size="27" stroke="#555555" stroke-width="0.4">60.00</text>
<text x="2744" y="1480.3" font-family="Liberation Sans, sans-serif" fill="#555555" font-size="27" stroke="#555555" stroke-width="0.4">40.00</text>
<rect x="2726" y="55" width="137" height="67" fill="#ffffff"/>
<rect x="2732" y="62" width="124.3" height="51.7" rx="8" fill="#ffffff" stroke="#ebedf3" stroke-width="1.7"/>
<text x="2750.4" y="97" font-family="Liberation Sans, sans-serif" font-size="27.5" fill="#131722" stroke="#131722" stroke-width="0.5" textLength="48.2" lengthAdjust="spacingAndGlyphs">USD</text>
<path d="M2725.8 252.8H2851.5A4 4 0 0 1 2855.5 256.8V289A4 4 0 0 1 2851.5 293H2725.8Z" fill="#f23645"/>
<text x="2744" y="282.8" font-family="Liberation Sans, sans-serif" font-size="27" fill="#ffffff" stroke="#ffffff" stroke-width="0.5">107.490</text>
<text x="112" y="1604.9" font-family="Liberation Sans, sans-serif" fill="#555555" font-size="27" text-anchor="middle" stroke="#555555" stroke-width="0.4">16</text>
<text x="336.5" y="1604.9" font-family="Liberation Sans, sans-serif" fill="#555555" font-size="27" text-anchor="middle" stroke="#555555" stroke-width="0.4">23</text>
<text x="612" y="1604.9" font-family="Liberation Sans, sans-serif" fill="#555555" font-size="27" font-weight="bold" text-anchor="middle" stroke="#555555" stroke-width="0">Oct</text>
<text x="808" y="1604.9" font-family="Liberation Sans, sans-serif" fill="#555555" font-size="27" text-anchor="middle" stroke="#555555" stroke-width="0.4">13:00</text>
<text x="1011.7" y="1604.9" font-family="Liberation Sans, sans-serif" fill="#555555" font-size="27" text-anchor="middle" stroke="#555555" stroke-width="0.4">14</text>
<text x="1234.8" y="1604.9" font-family="Liberation Sans, sans-serif" fill="#555555" font-size="27" text-anchor="middle" stroke="#555555" stroke-width="0.4">21</text>
<text x="1461.4" y="1604.9" font-family="Liberation Sans, sans-serif" fill="#555555" font-size="27" text-anchor="middle" stroke="#555555" stroke-width="0.4">28</text>
<text x="1642.3" y="1604.9" font-family="Liberation Sans, sans-serif" fill="#555555" font-size="27" font-weight="bold" text-anchor="middle" stroke="#555555" stroke-width="0">Nov</text>
<text x="1910" y="1604.9" font-family="Liberation Sans, sans-serif" fill="#555555" font-size="27" text-anchor="middle" stroke="#555555" stroke-width="0.4">11</text>
<text x="2136.4" y="1604.9" font-family="Liberation Sans, sans-serif" fill="#555555" font-size="27" text-anchor="middle" stroke="#555555" stroke-width="0.4">18</text>
<text x="2361" y="1604.9" font-family="Liberation Sans, sans-serif" fill="#555555" font-size="27" text-anchor="middle" stroke="#555555" stroke-width="0.4">25</text>
<text x="2579" y="1604.9" font-family="Liberation Sans, sans-serif" fill="#555555" font-size="27" font-weight="bold" text-anchor="middle" stroke="#555555" stroke-width="0">Dec</text>
<path d="M20 1652.2H35.3V1671.4H27.9V1659.9H20Z M50.6 1652.2H59.1L50.9 1671.4H42.5Z" fill="#131722"/><circle cx="42.1" cy="1656.4" r="4.2" fill="#131722"/>
<text x="66.1" y="1671.7" font-family="Liberation Sans, sans-serif" font-size="26" fill="#131722" textLength="140.5" lengthAdjust="spacingAndGlyphs" stroke="#131722" stroke-width="0.4">TradingView</text>
</g>
</svg></body></html>
